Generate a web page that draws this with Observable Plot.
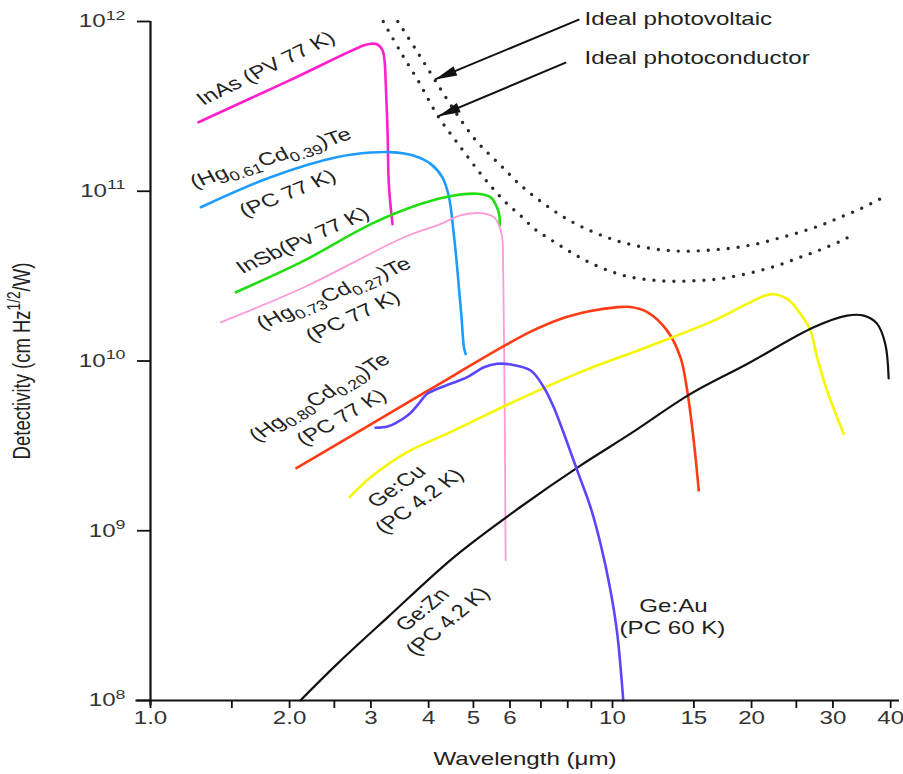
<!DOCTYPE html>
<html>
<head>
<meta charset="utf-8">
<script src="https://cdn.jsdelivr.net/npm/d3@7"></script>
<script src="https://cdn.jsdelivr.net/npm/@observablehq/plot@0.6"></script>
<style>
  html, body { margin: 0; padding: 0; background: #fff; }
  #chart svg { display: block; }
</style>
</head>
<body>
<div id="chart"></div>
<script>
// ---- Data: [wavelength (µm), detectivity (cm Hz^1/2 / W)] ----
const idealPhotovoltaic = [[3.43,1.0e12],[3.77,6.7e11],[4.13,4.5e11],[4.58,2.9e11],[5.08,1.97e11],[5.45,1.62e11],[5.82,1.36e11],[6.22,1.13e11],[6.71,9.5e10],[7.28,8.05e10],[7.91,6.94e10],[8.67,6.09e10],[9.58,5.43e10],[10.58,4.97e10],[11.84,4.65e10],[13.24,4.47e10],[14.8,4.44e10],[16.56,4.52e10],[18.46,4.66e10],[20.56,4.9e10],[22.89,5.29e10],[25.42,5.74e10],[28.18,6.29e10],[31.13,7.03e10],[34.4,7.88e10],[37.67,8.91e10],[39.39,9.44e10]];
const idealPhotoconductor = [[3.19,1.0e12],[3.48,6.6e11],[3.81,4.4e11],[4.18,2.8e11],[4.64,1.89e11],[5.18,1.27e11],[5.49,1.05e11],[5.87,8.6e10],[6.32,7.2e10],[6.78,6.0e10],[7.34,5.2e10],[8.01,4.48e10],[8.74,3.91e10],[9.66,3.46e10],[10.72,3.16e10],[11.98,3.01e10],[13.35,2.95e10],[14.95,2.97e10],[16.7,3.03e10],[18.61,3.18e10],[20.83,3.41e10],[23.09,3.7e10],[25.51,4.09e10],[28.18,4.52e10],[31.13,5.08e10],[32.61,5.41e10]];
const inAsPV77 = [[1.27,2.55e11],[2.0,4.5e11],[2.9,7.25e11],[3.0,7.4e11],[3.1,7.32e11],[3.18,6.75e11],[3.21,5.9e11],[3.23,4.3e11],[3.26,2.2e11],[3.28,1.1e11],[3.34,6.4e10]];
const hgCd039PC77 = [[1.285,8.05e10],[1.82,1.21e11],[2.54,1.59e11],[3.0,1.69e11],[3.3,1.7e11],[3.72,1.62e11],[4.04,1.45e11],[4.28,1.21e11],[4.42,9.4e10],[4.54,5.4e10],[4.6,3.8e10],[4.65,2.72e10],[4.71,1.83e10],[4.77,1.2e10],[4.81,1.1e10]];
const inSbPV77 = [[1.53,2.54e10],[2.15,3.9e10],[3.0,6.4e10],[3.84,8.4e10],[4.54,9.44e10],[5.1,9.66e10],[5.45,9.2e10],[5.58,8.4e10],[5.68,7.4e10],[5.7,6.3e10]];
const hgCd027PC77 = [[1.42,1.69e10],[2.15,2.72e10],[3.54,5.36e10],[4.25,6.43e10],[4.69,7.2e10],[5.18,7.43e10],[5.54,7.03e10],[5.7,6.14e10],[5.77,5.36e10],[5.8,3.4e10],[5.84,5.9e9],[5.87,6.7e8]];
const hgCd020PC77 = [[2.07,2.34e9],[4.0,6.73e9],[5.84,1.23e10],[6.65,1.49e10],[7.72,1.77e10],[8.96,1.97e10],[10.15,2.07e10],[10.94,2.08e10],[11.89,1.94e10],[13.13,1.51e10],[14.03,1.05e10],[14.51,6.7e9],[14.99,3.4e9],[15.37,1.73e9]];
const geCuPC42 = [[2.7,1.58e9],[3.0,2.07e9],[3.54,2.84e9],[4.54,3.9e9],[6.32,6.0e9],[8.52,8.6e9],[11.89,1.21e10],[16.56,1.73e10],[19.56,2.17e10],[21.97,2.47e10],[23.87,2.32e10],[25.51,1.9e10],[26.81,1.51e10],[27.72,1.05e10],[29.13,6.7e9],[31.64,3.73e9]];
const geAuPC60 = [[2.11,1.0e8],[2.54,1.65e8],[3.26,3.09e8],[4.54,7.0e8],[6.32,1.38e9],[8.52,2.42e9],[10.94,3.73e9],[14.75,6.4e9],[19.56,9.6e9],[27.26,1.58e10],[32.19,1.85e10],[34.97,1.85e10],[37.37,1.66e10],[38.94,1.26e10],[39.6,7.9e9]];
const geZnPC42 = [[3.07,4.04e9],[3.26,4.11e9],[3.42,4.36e9],[3.6,4.77e9],[3.78,5.47e9],[3.97,6.41e9],[4.18,6.86e9],[4.46,7.34e9],[4.85,8.03e9],[5.27,9.19e9],[5.63,9.63e9],[6.02,9.54e9],[6.65,8.79e9],[7.1,7.01e9],[7.46,5.34e9],[7.85,3.73e9],[8.39,2.26e9],[8.96,1.38e9],[9.42,8.38e8],[9.9,4.45e8],[10.24,2.47e8],[10.55,1.0e8]];

// ---- Axis ticks ----
const xTicks = [1, 1.5, 2, 2.5, 3, 4, 5, 6, 7, 8, 9, 10, 15, 20, 25, 30, 40];
const xTickLabels = {1: "1.0", 2: "2.0", 3: "3", 4: "4", 5: "5", 6: "6", 8: "8", 10: "10", 15: "15", 20: "20", 30: "30", 40: "40"};
const yTicks = [1e8, 1e9, 1e10, 1e11, 1e12];

// ---- Annotation labels ----
const labelText = ["InAs (PV 77 K)", "(Hg_{0.61}Cd_{0.39})Te", "(PC 77 K)", "InSb(Pv 77 K)", "(Hg_{0.73}Cd_{0.27})Te", "(PC 77 K)", "(Hg_{0.80}Cd_{0.20})Te", "(PC 77 K)", "Ge:Cu", "(PC 4.2 K)", "Ge:Zn", "(PC 4.2 K)", "Ge:Au", "(PC 60 K)"];
const labelWavelength = [1.776, 1.82, 1.98, 2.135, 2.49, 2.74, 2.32, 2.59, 3.41, 3.82, 3.88, 4.40, 13.55, 13.48];
const labelDetectivity = [5.29e11, 1.57e11, 9.7e10, 5.13e10, 2.5e10, 1.83e10, 6.1e9, 4.65e9, 1.82e9, 1.49e9, 3.42e8, 2.92e8, 3.61e8, 2.68e8];
const labelAngle = [-26, -17.5, -22, -24, -22.6, -25, -31, -30, -35, -36, -40, -40, 0, 0];

const idealText = ["Ideal photovoltaic", "Ideal photoconductor"];
const idealTextWavelength = [8.70, 8.70];
const idealTextDetectivity = [1.028e12, 6.05e11];
const arrowFromWavelength = [8.48, 7.94];
const arrowFromDetectivity = [1.03e12, 5.74e11];
const arrowToWavelength = [4.13, 4.20];
const arrowToDetectivity = [4.56e11, 2.77e11];

// ---- Build tables ----
const pts = arr => arr.map(([x, y]) => ({x, y}));
const series = [
  {data: inAsPV77, stroke: "#ff1fcc", w: 2.6},
  {data: hgCd039PC77, stroke: "#1e9bff", w: 2.6},
  {data: inSbPV77, stroke: "#22dd11", w: 2.6},
  {data: hgCd027PC77, stroke: "#ff9ad8", w: 1.8},
  {data: hgCd020PC77, stroke: "#ff3b14", w: 2.6},
  {data: geCuPC42, stroke: "#f6f600", w: 2.6},
  {data: geAuPC60, stroke: "#111111", w: 2.2},
  {data: geZnPC42, stroke: "#5a46ff", w: 2.6}
];
const labels = labelText.map((t, i) => ({t, x: labelWavelength[i], y: labelDetectivity[i], r: labelAngle[i]}));
const ideals = idealText.map((t, i) => ({t, x: idealTextWavelength[i], y: idealTextDetectivity[i]}));
const arrows = arrowFromWavelength.map((_, i) => ({x1: arrowFromWavelength[i], y1: arrowFromDetectivity[i], x2: arrowToWavelength[i], y2: arrowToDetectivity[i]}));

const headShape = {draw(ctx, l, r) { ctx.moveTo(0, -l); ctx.lineTo(-r, 0); ctx.lineTo(r, 0); ctx.closePath(); }};
const font = "'Liberation Sans', Arial, Helvetica, sans-serif";

const chart = Plot.plot({
  width: 903, height: 774,
  marginLeft: 150, marginRight: 4, marginTop: 21, marginBottom: 74,
  style: {fontFamily: font, fontSize: "18px", color: "#222", background: "#fff", overflow: "visible"},
  x: {type: "log", domain: [1, 41.8]},
  y: {type: "log", domain: [1e8, 1e12]},
  marks: [
    Plot.line(pts(idealPhotovoltaic), {x: "x", y: "y", stroke: "#2a2a2a", strokeWidth: 3.4, strokeDasharray: "0 10", strokeLinecap: "round", curve: "catmull-rom"}),
    Plot.line(pts(idealPhotoconductor), {x: "x", y: "y", stroke: "#2a2a2a", strokeWidth: 3.4, strokeDasharray: "0 10", strokeLinecap: "round", curve: "catmull-rom"}),
    ...series.map(s => Plot.line(pts(s.data), {x: "x", y: "y", stroke: s.stroke, strokeWidth: s.w, strokeLinejoin: "round", strokeLinecap: "round", curve: "catmull-rom"})),
    Plot.link(arrows, {x1: "x1", y1: "y1", x2: "x2", y2: "y2", stroke: "#111", strokeWidth: 2}),
    Plot.vector(arrows, {x: "x2", y: "y2", rotate: 247.3, length: 22, r: 5, anchor: "end", shape: headShape, fill: "#111", stroke: "none"}),
    Plot.ruleY([1e8], {x1: 0.93, x2: 41.8, stroke: "#111", strokeWidth: 2.2}),
    Plot.ruleX([1], {y1: 0.93e8, y2: 1e12, stroke: "#111", strokeWidth: 2.2}),
    Plot.axisX(xTicks, {tickSize: 8, tickPadding: 3, strokeWidth: 1.8, stroke: "#111", fill: "#333", fontSize: 18, tickFormat: d => xTickLabels[d] ?? "", label: null}),
    Plot.axisY(yTicks, {tickSize: 13, tickPadding: 12, strokeWidth: 1.8, stroke: "#111", fill: "#333", fontSize: 18, tickFormat: d => "10^{" + Math.round(Math.log10(d)) + "}", label: null}),
    Plot.text(labels, {x: "x", y: "y", text: "t", rotate: "r", fontSize: 18, fill: "#222", textAnchor: "middle"}),
    Plot.text(ideals, {x: "x", y: "y", text: "t", fontSize: 18, fill: "#222", textAnchor: "start"}),
    Plot.text(["Wavelength (μm)"], {frameAnchor: "bottom", dy: 64, fontSize: 18, fill: "#222", textAnchor: "middle"}),
    Plot.text(["Detectivity (cm Hz^{1/2}/W)"], {frameAnchor: "left", rotate: -90, dx: -128, fontSize: 18.5, fill: "#222", textAnchor: "middle"})
  ]
});
document.getElementById("chart").appendChild(chart);

// ---- Rich text (sub/superscripts) ----
const SVGNS = "http://www.w3.org/2000/svg";
function richify(el) {
  const s = el.textContent;
  if (!/[_^]\{/.test(s)) return;
  const fs = parseFloat(getComputedStyle(el).fontSize) || 18;
  const parts = []; const re = /([_^])\{([^}]*)\}/g; let last = 0, m;
  while ((m = re.exec(s))) {
    if (m.index > last) parts.push({t: s.slice(last, m.index), k: ""});
    parts.push({t: m[2], k: m[1]}); last = re.lastIndex;
  }
  if (last < s.length) parts.push({t: s.slice(last), k: ""});
  while (el.firstChild) el.removeChild(el.firstChild);
  let shift = 0;
  for (const p of parts) {
    const ts = document.createElementNS(SVGNS, "tspan");
    const target = p.k === "^" ? -0.42 * fs : p.k === "_" ? 0.26 * fs : 0;
    const dy = target - shift; shift = target;
    if (dy) ts.setAttribute("dy", dy.toFixed(2));
    if (p.k) ts.setAttribute("font-size", (0.74 * fs).toFixed(1));
    ts.textContent = p.t;
    el.appendChild(ts);
  }
}
// ---- Horizontal stretch of lettering (the original artwork is widened ~1.34x) ----
const S = 1.34;
function stretch(el) {
  const t = el.getAttribute("transform") || "";
  const tr = /translate\(\s*([-\d.e]+)[,\s]+([-\d.e]+)\s*\)/.exec(t);
  const ro = /rotate\(\s*([-\d.e]+)\s*\)/.exec(t);
  let tx = tr ? +tr[1] : 0, ty = tr ? +tr[2] : 0;
  const xa = el.getAttribute("x");
  if (xa != null && !isNaN(+xa)) { tx += +xa; el.removeAttribute("x"); }
  const r = ro ? +ro[1] : 0;
  // choose the pre-stretch angle so that the visible (stretched) angle equals r
  const r0 = r ? Math.atan2(S * Math.sin(r * Math.PI / 180), Math.cos(r * Math.PI / 180)) * 180 / Math.PI : 0;
  el.setAttribute("transform", `translate(${tx},${ty}) scale(${S},1)` + (r ? ` rotate(${r0.toFixed(3)})` : ""));
}
chart.querySelectorAll("text").forEach(el => { richify(el); stretch(el); });
</script>
</body>
</html>
